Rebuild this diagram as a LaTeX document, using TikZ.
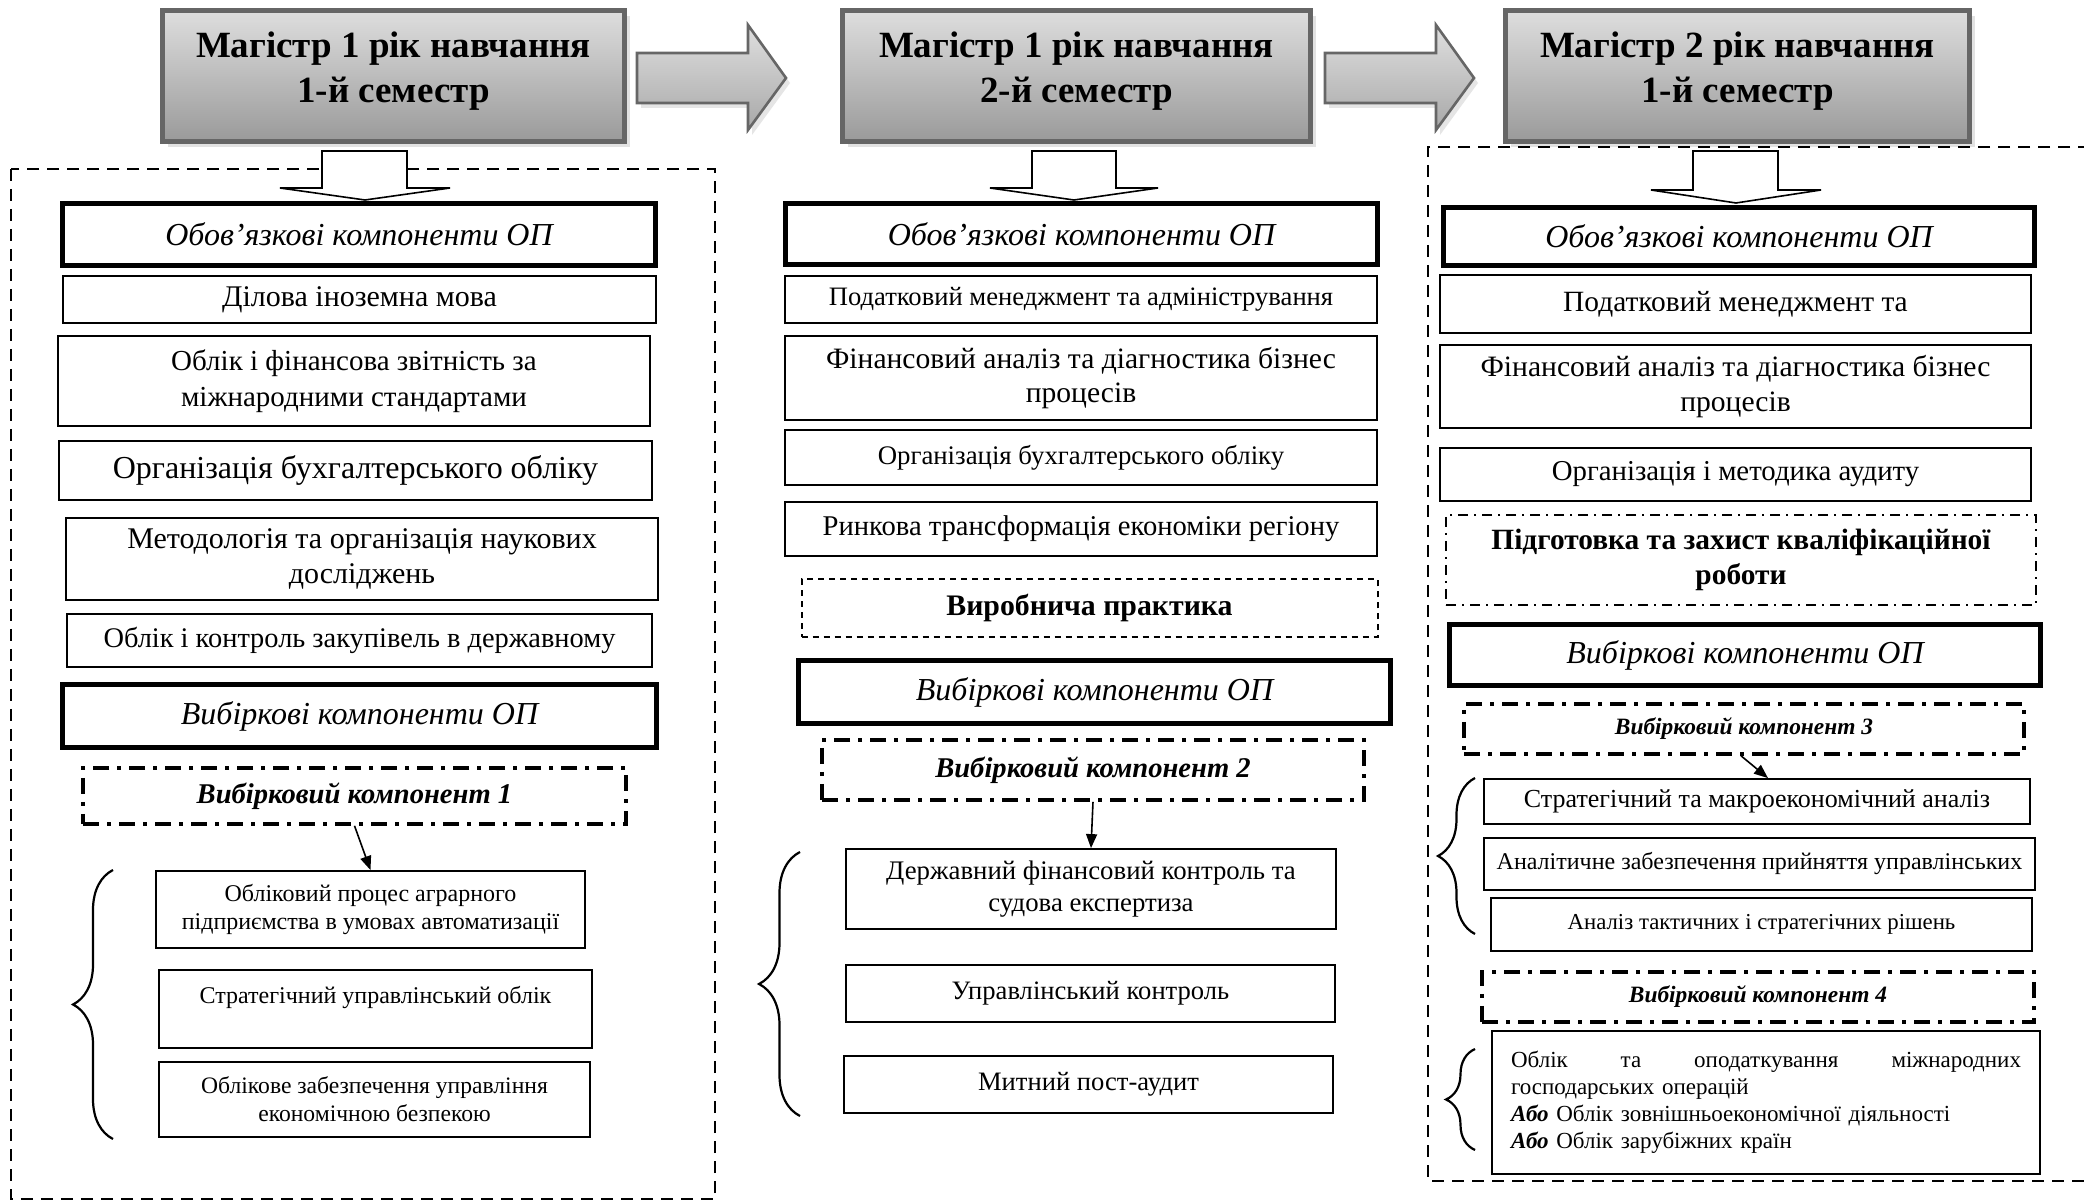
\documentclass[tikz,border=0pt]{standalone}
\usepackage{fontspec}
\setmainfont{Liberation Serif}
\usetikzlibrary{arrows.meta, shadows, decorations.pathreplacing}

\definecolor{headline}{HTML}{666666}
\definecolor{headtop}{HTML}{DEDEDE}
\definecolor{headbot}{HTML}{9A9A9A}

\begin{document}
\begin{tikzpicture}[x=0.5pt, y=-0.5pt,
    head/.style = {draw=headline, line width=2.6pt, top color=headtop, bottom color=headbot,
        drop shadow={shadow xshift=2.5pt, shadow yshift=-3pt, fill=gray!45},
        inner sep=0pt, align=center, text depth=9pt, font=\bfseries\fontsize{18.5}{22.5}\selectfont},
    greyarrow/.style = {draw=headline, line width=1.3pt, top color=gray!25, bottom color=gray!68,
        drop shadow={shadow xshift=2pt, shadow yshift=-2.5pt, fill=gray!40}},
    downarrow/.style = {draw, fill=white, line width=0.8pt},
    outer/.style = {draw, line width=1.1pt, dash pattern=on 6pt off 4pt},
    oblig/.style = {draw, line width=2.6pt, inner sep=0pt, align=center, font=\itshape\fontsize{16}{19}\selectfont},
    item/.style = {draw, line width=0.9pt, inner sep=0pt, align=center},
    choice/.style = {draw, line width=1.8pt, dash pattern=on 8pt off 4pt on 2pt off 4pt, inner sep=0pt, align=center},
    practice/.style = {draw, line width=1pt, dash pattern=on 3pt off 2.5pt, inner sep=0pt, align=center},
    thesis/.style = {draw, line width=0.9pt, dash pattern=on 5pt off 3pt on 1pt off 3pt, inner sep=0pt, align=center},
    link/.style = {line width=0.8pt, -{Triangle[length=7pt, width=5.5pt]}},
    curly/.style = {line width=1.1pt, decorate, decoration={brace, amplitude=#1}}
]

    \path[use as bounding box, fill=white] (0, 0) rectangle (2084, 1202);

    \node[head, minimum width=231pt, minimum height=65.5pt] (h1) at (393.5, 76) {Магістр 1 рік навчання\\1-й семестр};
    \node[head, minimum width=234pt, minimum height=65.5pt] (h2) at (1076.5, 76) {Магістр 1 рік навчання\\2-й семестр};
    \node[head, minimum width=232pt, minimum height=65.5pt] (h3) at (1737.5, 76) {Магістр 2 рік навчання\\1-й семестр};

    \draw[greyarrow] (637, 53) -- (748, 53) -- (748, 25) -- (786, 78) -- (748, 130) -- (748, 103) -- (637, 103) -- cycle;
    \draw[greyarrow] (1325, 53) -- (1436, 53) -- (1436, 25) -- (1474, 78) -- (1436, 130) -- (1436, 103) -- (1325, 103) -- cycle;

    \draw[outer] (11, 169) rectangle (715, 1199);
    \draw[outer] (2090, 147) -- (1428, 147) -- (1428, 1181) -- (2090, 1181);

    \draw[downarrow] (322, 151) -- (407, 151) -- (407, 188) -- (450, 188) -- (365, 200) -- (280, 188) -- (322, 188) -- cycle;
    \draw[downarrow] (1032, 151) -- (1116, 151) -- (1116, 188) -- (1158, 188) -- (1074, 200) -- (990, 188) -- (1032, 188) -- cycle;
    \draw[downarrow] (1693, 151) -- (1778, 151) -- (1778, 190) -- (1821, 190) -- (1736, 203) -- (1651, 190) -- (1693, 190) -- cycle;

    \node[oblig, minimum width=296.5pt, minimum height=31pt] (ob1) at (359, 234.5) {Обов’язкові компоненти ОП};
    \node[item, minimum width=296.5pt, minimum height=23.5pt, font=\fontsize{15}{17.5}\selectfont] (c1a) at (359.5, 299.5) {Ділова іноземна мова};
    \node[item, minimum width=296pt, minimum height=45pt, font=\fontsize{14.5}{18}\selectfont] (c1b) at (354, 381) {Облік і фінансова звітність за\\міжнародними стандартами};
    \node[item, minimum width=296.5pt, minimum height=29.5pt, font=\fontsize{16}{18.5}\selectfont] (c1c) at (355.5, 470.5) {Організація бухгалтерського обліку};
    \node[item, minimum width=296pt, minimum height=41pt, font=\fontsize{15}{17.3}\selectfont] (c1d) at (362, 559) {Методологія та організація наукових\\досліджень};
    \node[item, minimum width=292.5pt, minimum height=26.5pt, font=\fontsize{14.2}{16.5}\selectfont] (c1e) at (359.5, 640.5) {Облік і контроль закупівель в державному};
    \node[oblig, minimum width=297pt, minimum height=31.5pt] (vyb1) at (359.5, 716) {Вибіркові компоненти ОП};
    \node[choice, minimum width=271.5pt, minimum height=28pt, font=\bfseries\itshape\fontsize{14.3}{17}\selectfont] (k1) at (354.5, 796) {Вибірковий компонент 1};
    \node[item, minimum width=214.5pt, minimum height=38.5pt, font=\fontsize{12}{14}\selectfont] (c1f) at (370.5, 909.5) {Обліковий процес аграрного\\підприємства в умовах автоматизації};
    \node[item, minimum width=216.5pt, minimum height=39pt, font=\fontsize{12}{14}\selectfont] (c1g) at (375.5, 1009) {Стратегічний управлінський облік\\\mbox{}};
    \node[item, minimum width=215.5pt, minimum height=37.5pt, font=\fontsize{11.8}{14}\selectfont] (c1h) at (374.5, 1099.5) {Облікове забезпечення управління\\економічною безпекою};

    \node[oblig, minimum width=296pt, minimum height=30.5pt] (ob2) at (1081.5, 234) {Обов’язкові компоненти ОП};
    \node[item, minimum width=296pt, minimum height=23.5pt, font=\fontsize{13.3}{15.5}\selectfont] (c2a) at (1081, 299.5) {Податковий менеджмент та адміністрування};
    \node[item, minimum width=296pt, minimum height=42pt, font=\fontsize{14.8}{17.3}\selectfont] (c2b) at (1081, 378) {Фінансовий аналіз та діагностика бізнес\\процесів};
    \node[item, minimum width=296pt, minimum height=27.5pt, font=\fontsize{13.4}{15.5}\selectfont] (c2c) at (1081, 457.5) {Організація бухгалтерського обліку};
    \node[item, minimum width=296pt, minimum height=27pt, font=\fontsize{14.3}{16.5}\selectfont] (c2d) at (1081, 529) {Ринкова трансформація економіки регіону};
    \node[practice, minimum width=288pt, minimum height=29pt, font=\bfseries\fontsize{14.9}{17}\selectfont] (prak) at (1089.5, 608.5) {Виробнича практика};
    \node[oblig, minimum width=296pt, minimum height=31.5pt] (vyb2) at (1094.5, 692) {Вибіркові компоненти ОП};
    \node[choice, minimum width=271pt, minimum height=30pt, font=\bfseries\itshape\fontsize{14.3}{17}\selectfont] (k2) at (1093, 770) {Вибірковий компонент 2};
    \node[item, minimum width=245pt, minimum height=40pt, font=\fontsize{13.4}{16}\selectfont] (c2e) at (1091, 889) {Державний фінансовий контроль та\\судова експертиза};
    \node[item, minimum width=244.5pt, minimum height=28.5pt, font=\fontsize{13.3}{15.5}\selectfont] (c2f) at (1090.5, 993.5) {Управлінський контроль};
    \node[item, minimum width=244.5pt, minimum height=28.5pt, font=\fontsize{13.3}{15.5}\selectfont] (c2g) at (1088.5, 1084.5) {Митний пост-аудит};

    \node[oblig, minimum width=295.5pt, minimum height=29pt] (ob3) at (1739, 236.5) {Обов’язкові компоненти ОП};
    \node[item, minimum width=295.5pt, minimum height=29pt, font=\fontsize{14.7}{17}\selectfont] (c3a) at (1735.5, 304) {Податковий менеджмент та};
    \node[item, minimum width=295.5pt, minimum height=41.5pt, font=\fontsize{14.8}{17.3}\selectfont] (c3b) at (1735.5, 386.5) {Фінансовий аналіз та діагностика бізнес\\процесів};
    \node[item, minimum width=295.5pt, minimum height=26.5pt, font=\fontsize{14.4}{16.5}\selectfont] (c3c) at (1735.5, 474.5) {Організація і методика аудиту};
    \node[thesis, minimum width=295pt, minimum height=45pt, font=\bfseries\fontsize{14.7}{17.3}\selectfont] (kval) at (1741, 560) {Підготовка та захист кваліфікаційної\\роботи};
    \node[oblig, minimum width=295.5pt, minimum height=30.5pt] (vyb3) at (1745, 655) {Вибіркові компоненти ОП};
    \node[choice, minimum width=280pt, minimum height=25pt, font=\bfseries\itshape\fontsize{11.7}{14}\selectfont] (k3) at (1744, 729) {Вибірковий компонент 3};
    \node[item, minimum width=273pt, minimum height=22.5pt, font=\fontsize{13}{15}\selectfont] (c3d) at (1757, 801.5) {Стратегічний та макроекономічний аналіз};
    \node[item, minimum width=275.5pt, minimum height=26pt, font=\fontsize{12}{14}\selectfont] (c3e) at (1759.5, 864) {Аналітичне забезпечення прийняття управлінських};
    \node[item, minimum width=270.5pt, minimum height=26.5pt, font=\fontsize{11.4}{13.5}\selectfont] (c3f) at (1761.5, 924.5) {Аналіз тактичних і стратегічних рішень};
    \node[choice, minimum width=276pt, minimum height=25pt, font=\bfseries\itshape\fontsize{11.7}{14}\selectfont] (k4) at (1758, 997) {Вибірковий компонент 4};
    \node[item, minimum width=274pt, minimum height=71.5pt, text width=255pt, align=left, font=\fontsize{11.5}{13.5}\selectfont] (c3g) at (1766, 1102.5) {Облік\hfill та\hfill оподаткування\hfill міжнародних\\господарських операцій\\\textbf{\textit{Або}} Облік зовнішньоекономічної діяльності\\\textbf{\textit{Або}} Облік зарубіжних країн};

    \draw[link] (k1.south) -- (c1f.north);
    \draw[link] (k2.south) -- (c2e.north);
    \draw[link] ([xshift=-1.5pt]k3.south) -- ([xshift=5.5pt]c3d.north);

    \draw[curly=20pt] (113, 1139) -- (113, 870);
    \draw[curly=20.5pt] (800, 1116) -- (800, 852);
    \draw[curly=18.5pt] (1475, 934) -- (1475, 778);
    \draw[curly=14.5pt] (1475, 1150) -- (1475, 1049);

\end{tikzpicture}
\end{document}
